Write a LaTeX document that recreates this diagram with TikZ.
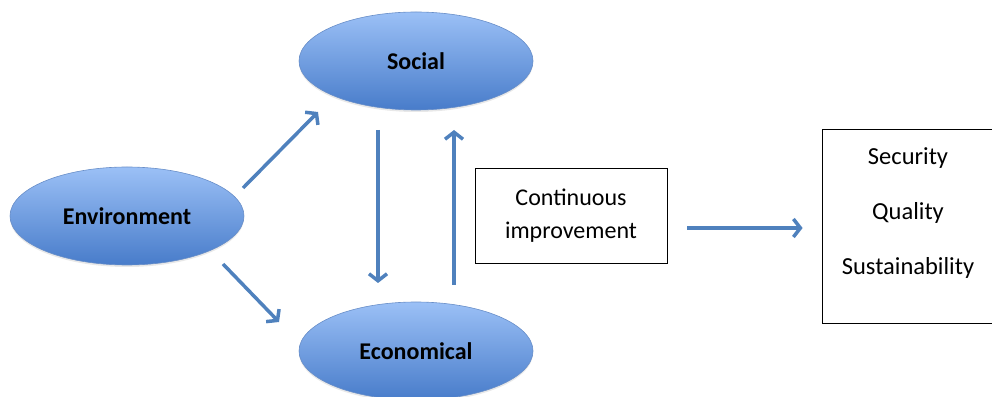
\documentclass[tikz,border=0pt]{standalone}
\usepackage{fontspec}
\setmainfont{Carlito}
\usetikzlibrary{arrows.meta, calc, shapes.geometric, shadows}
\definecolor{pillartop}{RGB}{155,192,246}
\definecolor{pillarbot}{RGB}{72,124,202}
\definecolor{pillaredge}{RGB}{104,142,200}
\definecolor{flowblue}{RGB}{79,129,189}

\begin{document}
\begin{tikzpicture}[x=1pt, y=1pt, >={Straight Barb[length=7pt, width=18pt]}]
    \tikzset{pillar/.style={ellipse, draw=pillaredge, line width=0.6pt, top color=pillartop, bottom color=pillarbot, minimum width=234pt, minimum height=98pt, inner sep=0pt, font=\fontsize{24}{28}\selectfont\bfseries, drop shadow={shadow xshift=0pt, shadow yshift=-2pt, opacity=0.18}},
             plainbox/.style={draw, line width=0.8pt, inner sep=0pt, fill=white},
             goal/.style={font=\fontsize{24.5}{28}\selectfont},
             flow/.style={->, draw=flowblue, line width=3.5pt}};
    \useasboundingbox (0, 0) rectangle (992, 396);
    \node[pillar] (env) at (127, 180) {Environment};
    \node[pillar] (soc) at (416, 335) {Social};
    \node[pillar] (eco) at (416, 45) {Economical};
    \node[plainbox, minimum width=192pt, minimum height=95pt, align=center, font=\fontsize{24}{33}\selectfont] (ci) at (571, 180.5) {Continuous\\improvement};
    \node[plainbox, minimum width=180pt, minimum height=194pt] (goals) at (912, 170) {};
    \node[goal] (sec) at ($(goals.center)+(-4, 68)$) {Security};
    \node[goal] (qual) at ($(goals.center)+(-4, 13)$) {Quality};
    \node[goal] (sust) at ($(goals.center)+(-4, -42)$) {Sustainability};
    \draw[flow] ($(env.center)+(116, 28)$) -- ($(soc.center)+(-98, -51)$);
    \draw[flow] ($(env.center)+(96, -48)$) -- ($(eco.center)+(-137, 29)$);
    \draw[flow] ($(soc.center)+(-38, -69)$) -- ($(eco.center)+(-38, 68)$);
    \draw[flow] ($(eco.center)+(38, 66)$) -- ($(soc.center)+(38, -69)$);
    \draw[flow] ($(ci.east)+(20, -12.5)$) -- ($(goals.west)+(-19, -2)$);
\end{tikzpicture}
\end{document}
